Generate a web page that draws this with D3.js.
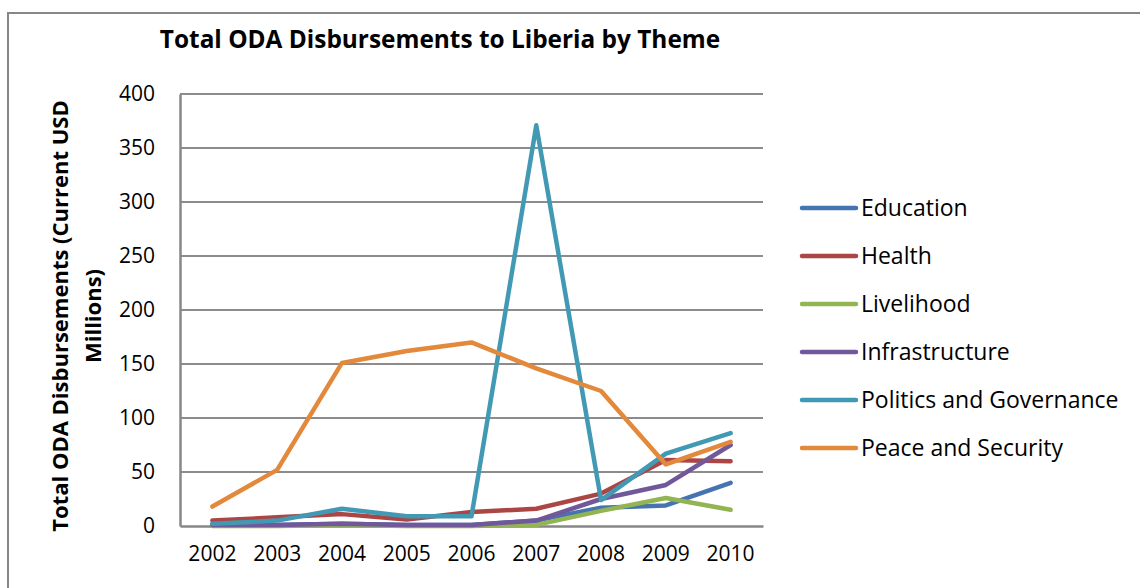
<!DOCTYPE html>
<html>
<head>
<meta charset="utf-8">
<script src="https://cdnjs.cloudflare.com/ajax/libs/d3/7.8.5/d3.min.js"></script>
<style>
  body { margin: 0; background: #fff; }
  text { font-family: "Open Sans", sans-serif; fill: #000; }
</style>
</head>
<body>
<div id="chart"></div>
<script>
const years = ["2002", "2003", "2004", "2005", "2006", "2007", "2008", "2009", "2010"];
const seriesNames = ["Education", "Health", "Livelihood", "Infrastructure", "Politics and Governance", "Peace and Security"];
const seriesColors = ["#4674b0", "#ab4644", "#93b452", "#70589a", "#4299b4", "#e3893c"];
const education = [1, 1, 2, 1, 1, 5, 17, 19, 40];
const health = [5, 8, 11, 6, 13, 16, 30, 61, 60];
const livelihood = [0, 0, 1, 0, 0, 1, 14, 26, 15];
const infrastructure = [1, 1, 2, 1, 1, 5, 25, 38, 75];
const politics = [2, 5, 16, 9, 9, 371, 24, 67, 86];
const peace = [18, 52, 151, 162, 170, 146, 125, 57, 78];
const yTicks = [0, 50, 100, 150, 200, 250, 300, 350, 400];

const seriesValues = [education, health, livelihood, infrastructure, politics, peace];

const width = 1140, height = 588;
const margin = { top: 94, left: 180, right: 377, bottom: 62 };
const font = "'Open Sans', sans-serif";

const svg = d3.select("#chart")
    .append("svg")
    .attr("width", width)
    .attr("height", height);

// outer frame of the chart object
svg.append("rect")
    .attr("x", 8).attr("y", 13)
    .attr("width", width + 20).attr("height", height + 20)
    .attr("fill", "none")
    .attr("stroke", "#878787")
    .attr("stroke-width", 2);

const x = d3.scaleBand()
    .domain(years)
    .range([margin.left, width - margin.right]);

const y = d3.scaleLinear()
    .domain([0, 400])
    .range([height - margin.bottom, margin.top]);

// gridlines
svg.append("g")
    .selectAll("line")
    .data(yTicks.slice(1))
    .join("line")
    .attr("x1", margin.left).attr("x2", width - margin.right)
    .attr("y1", (d) => y(d)).attr("y2", (d) => y(d))
    .attr("stroke", "#8c8c8c")
    .attr("stroke-width", 2);

// y axis
const yAxis = svg.append("g")
    .attr("transform", "translate(" + margin.left + ",0)")
    .call(d3.axisLeft(y).tickValues(yTicks).tickSize(0).tickPadding(25));
yAxis.select(".domain").attr("stroke", "#878787").attr("stroke-width", 2.5);
yAxis.selectAll("text").attr("font-size", 21).attr("font-family", font);

// x axis
const xAxis = svg.append("g")
    .attr("transform", "translate(0," + y(0) + ")")
    .call(d3.axisBottom(x).tickSize(0).tickPadding(20));
xAxis.select(".domain").attr("stroke", "#878787").attr("stroke-width", 2.5);
xAxis.selectAll("text").attr("font-size", 21).attr("font-family", font);

// lines
const line = d3.line()
    .x((d, i) => x(years[i]) + x.bandwidth() / 2)
    .y((d) => y(d));

svg.append("g")
    .selectAll("path")
    .data(seriesValues)
    .join("path")
    .attr("d", (d) => line(d))
    .attr("fill", "none")
    .attr("stroke", (d, i) => seriesColors[i])
    .attr("stroke-width", 4.5)
    .attr("stroke-linejoin", "round")
    .attr("stroke-linecap", "round");

// title
svg.append("text")
    .attr("x", 440).attr("y", 48)
    .attr("text-anchor", "middle")
    .attr("font-size", 24.4)
    .attr("font-weight", "bold")
    .text("Total ODA Disbursements to Liberia by Theme");

// y axis title
const yTitle = svg.append("text")
    .attr("transform", "translate(68,316) rotate(-90)")
    .attr("text-anchor", "middle")
    .attr("font-size", 22)
    .attr("font-weight", "bold");
yTitle.append("tspan").attr("x", 0).attr("y", 0).text("Total ODA Disbursements (Current USD");
yTitle.append("tspan").attr("x", 0).attr("y", 33).text("Millions)");

// legend
const legend = svg.append("g")
    .selectAll("g")
    .data(seriesNames)
    .join("g")
    .attr("transform", (d, i) => "translate(802," + (208 + i * 48) + ")");

legend.append("line")
    .attr("x1", 0).attr("x2", 54)
    .attr("stroke", (d, i) => seriesColors[i])
    .attr("stroke-width", 4.5)
    .attr("stroke-linecap", "round");

legend.append("text")
    .attr("x", 59).attr("y", 8)
    .attr("font-size", 23)
    .text((d) => d);
</script>
</body>
</html>
